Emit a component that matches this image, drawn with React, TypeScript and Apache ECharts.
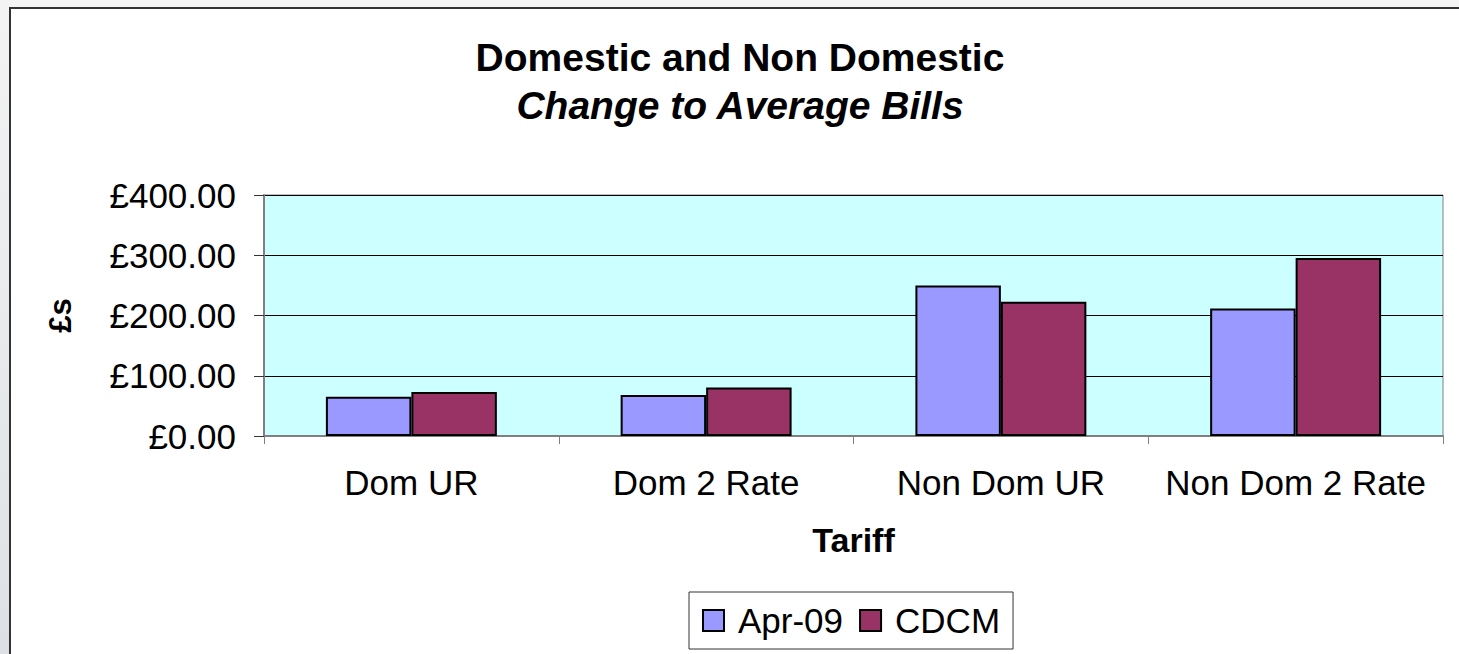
import React, { useEffect, useRef } from 'react';
import * as echarts from 'echarts';

const categories = ['Dom UR', 'Dom 2 Rate', 'Non Dom UR', 'Non Dom 2 Rate'];
const seriesNames = ['Apr-09', 'CDCM'];
const apr09Values = [65, 68, 250, 211.5];
const cdcmValues = [73, 80.5, 223, 295.5];
const yMin = 0;
const yMax = 400;
const yInterval = 100;
const titleText = 'Domestic and Non Domestic';
const subtitleText = 'Change to Average Bills';
const xAxisName = 'Tariff';
const yAxisName = '£s';

const FONT = '"Liberation Sans", Arial, sans-serif';

export default function App() {
  const ref = useRef<HTMLDivElement>(null);

  useEffect(() => {
    if (!ref.current) return;
    const chart = echarts.init(ref.current, undefined, { renderer: 'svg' });
    chart.setOption({
      animation: false,
      backgroundColor: '#f4f4f4',
      textStyle: { fontFamily: FONT },
      graphic: [
        {
          type: 'rect',
          z: -10,
          shape: { x: 0, y: 0, width: 9, height: 654 },
          style: {
            fill: new echarts.graphic.LinearGradient(0, 0, 0, 1, [
              { offset: 0, color: '#f3f3f3' },
              { offset: 1, color: '#dde1e5' },
            ]),
          },
        },
        {
          type: 'rect',
          z: -9,
          shape: { x: 10, y: 8, width: 1460, height: 660 },
          style: { fill: '#ffffff', stroke: '#333333', lineWidth: 2 },
        },
        {
          type: 'text',
          z: 100,
          x: 740,
          y: 57,
          style: {
            text: titleText,
            fill: '#000',
            fontSize: 39,
            fontWeight: 'bold',
            fontFamily: FONT,
            align: 'center',
            verticalAlign: 'middle',
            textAlign: 'center',
            textVerticalAlign: 'middle',
          },
        },
        {
          type: 'text',
          z: 100,
          x: 740,
          y: 105,
          style: {
            text: subtitleText,
            fill: '#000',
            fontSize: 39,
            fontWeight: 'bold',
            fontStyle: 'italic',
            fontFamily: FONT,
            align: 'center',
            verticalAlign: 'middle',
            textAlign: 'center',
            textVerticalAlign: 'middle',
          },
        },
      ],
      grid: {
        left: 264,
        right: 16,
        top: 195,
        bottom: 218,
        show: true,
        backgroundColor: '#ccffff',
        borderColor: '#808080',
        borderWidth: 1,
      },
      legend: {
        data: seriesNames,
        left: 689,
        top: 592,
        icon: 'rect',
        itemWidth: 21,
        itemHeight: 21,
        itemGap: 16,
        padding: [11, 13, 11, 13],
        borderColor: '#333',
        borderWidth: 1,
        backgroundColor: '#fff',
        itemStyle: { borderColor: '#000', borderWidth: 2 },
        textStyle: { fontSize: 35, color: '#000', fontFamily: FONT, padding: [0, 0, 0, 9] },
      },
      xAxis: {
        type: 'category',
        data: categories,
        name: xAxisName,
        nameLocation: 'middle',
        nameGap: 87,
        nameTextStyle: { fontSize: 34, fontWeight: 'bold', color: '#000', fontFamily: FONT },
        axisLine: { show: true, lineStyle: { color: '#808080', width: 2 } },
        axisTick: { show: true, length: 8, lineStyle: { color: '#808080', width: 1 } },
        axisLabel: { fontSize: 35, color: '#000', margin: 29, interval: 0, fontFamily: FONT },
        splitLine: { show: false },
      },
      yAxis: {
        type: 'value',
        min: yMin,
        max: yMax,
        interval: yInterval,
        name: yAxisName,
        nameLocation: 'middle',
        nameGap: 188,
        nameRotate: 90,
        nameTextStyle: { fontSize: 31, fontWeight: 'bold', color: '#000', fontFamily: FONT },
        axisLine: { show: true, lineStyle: { color: '#808080', width: 2 } },
        axisTick: { show: true, length: 10, lineStyle: { color: '#333', width: 1 } },
        axisLabel: {
          fontSize: 35,
          color: '#000',
          margin: 28,
          fontFamily: FONT,
          formatter: (v: number) => '£' + v.toFixed(2),
        },
        splitLine: { show: true, lineStyle: { color: '#000', width: 1 } },
      },
      series: [
        {
          name: seriesNames[0],
          type: 'bar',
          data: apr09Values,
          barGap: '0%',
          barCategoryGap: '42%',
          itemStyle: { color: '#9999ff', borderColor: '#000', borderWidth: 2 },
        },
        {
          name: seriesNames[1],
          type: 'bar',
          data: cdcmValues,
          barGap: '0%',
          barCategoryGap: '42%',
          itemStyle: { color: '#993366', borderColor: '#000', borderWidth: 2 },
        },
      ],
    });
    return () => chart.dispose();
  }, []);

  return (
    <div
      ref={ref}
      style={{ position: 'absolute', left: 0, top: 0, width: 1459, height: 654 }}
    />
  );
}
